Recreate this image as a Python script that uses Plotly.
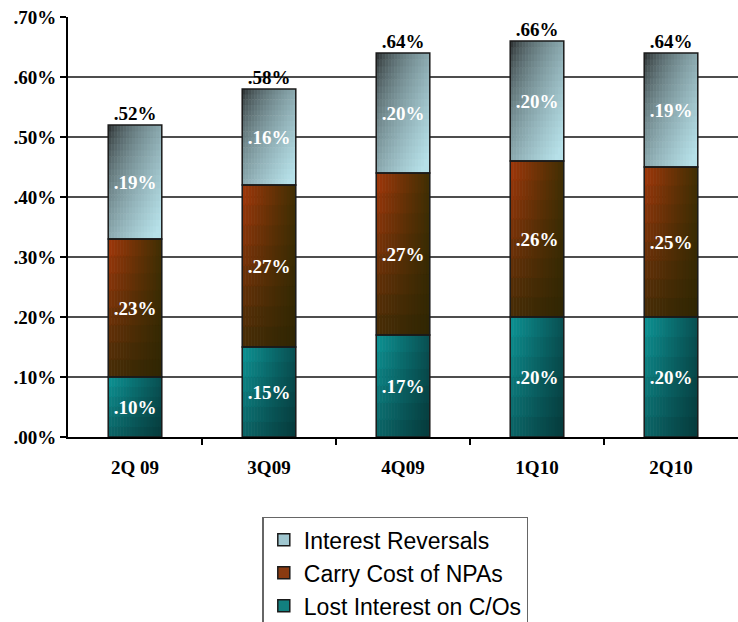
import plotly.graph_objects as go

# ---- data -----------------------------------------------------------------
quarters = ["2Q 09", "3Q09", "4Q09", "1Q10", "2Q10"]
lost_interest = [0.10, 0.15, 0.17, 0.20, 0.20]        # Lost Interest on C/Os
carry_cost = [0.23, 0.27, 0.27, 0.26, 0.25]           # Carry Cost of NPAs
interest_reversals = [0.19, 0.16, 0.20, 0.20, 0.19]   # Interest Reversals
totals = [0.52, 0.58, 0.64, 0.66, 0.64]
y_tickvals = [0.0, 0.1, 0.2, 0.3, 0.4, 0.5, 0.6, 0.7]
y_ticktext = [".00%", ".10%", ".20%", ".30%", ".40%", ".50%", ".60%", ".70%"]


def pct(v):
    return ("%.2f%%" % v).lstrip("0")


def hex_rgb(h):
    h = h.lstrip("#")
    return tuple(int(h[i:i + 2], 16) for i in (0, 2, 4))


def mix(a, b, t):
    a, b = hex_rgb(a), hex_rgb(b)
    return tuple(a[i] + (b[i] - a[i]) * t for i in range(3))


def bilinear(tl, tr, bl, br):
    def f(u, v):  # u: 0 left -> 1 right, v: 0 bottom -> 1 top
        top = mix(tl, tr, u)
        bot = mix(bl, br, u)
        return tuple(bot[i] + (top[i] - bot[i]) * v for i in range(3))
    return f


def diagonal(dark, light):
    def f(u, v):
        s = min(1.0, ((u + (1 - v)) / 2) ** 0.55 * 1.05)
        return mix(dark, light, s)
    return f


# name, values, shading function, legend swatch colour, grid resolution
series = [
    ("Lost Interest on C/Os", lost_interest,
     bilinear("#0c9596", "#0a5153", "#0b6264", "#063a3b"), "#12807f", (18, 6)),
    ("Carry Cost of NPAs", carry_cost,
     bilinear("#a3370a", "#403004", "#442c06", "#2f2603"), "#8a3a10", (18, 8)),
    ("Interest Reversals", interest_reversals,
     diagonal("#1c1c1c", "#b6e0e8"), "#9fc6cf", (18, 18)),
]

x = list(range(len(quarters)))
BAR_W = 0.4
SERIF = "Liberation Serif, Times New Roman, serif"

fig = go.Figure()

bases = [0.0] * len(quarters)
outline_traces = []
for name, vals, shade, legend_color, (nx, ny) in series:
    # gradient fill: a grid of small overlapping rectangles per segment
    cw = BAR_W / nx
    for i in range(nx):
        for j in range(ny):
            u = (i + 0.5) / nx
            v = (j + 0.5) / ny
            r, g, b = shade(u, v)
            fig.add_trace(go.Bar(
                x=x,
                y=[val / ny * (1.08 if j < ny - 1 else 1.0) for val in vals],
                base=[bases[k] + vals[k] * j / ny for k in range(len(x))],
                width=cw * 1.2 if i < nx - 1 else cw,
                offset=-BAR_W / 2 + i * cw,
                marker=dict(color="rgb(%d,%d,%d)" % (r, g, b), line=dict(width=0)),
                showlegend=False, hoverinfo="skip",
            ))
    outline_traces.append(go.Bar(
        x=x, y=vals, base=list(bases), width=BAR_W, offset=-BAR_W / 2,
        marker=dict(color="rgba(0,0,0,0)", line=dict(color="#1a1a1a", width=1.5)),
        text=[pct(v) for v in vals], textposition="inside",
        insidetextanchor="middle", textangle=0,
        insidetextfont=dict(color="white", size=19, family=SERIF, weight="bold"),
        showlegend=False, hoverinfo="skip",
    ))
    fig.add_trace(go.Bar(
        x=[None], y=[None], name=name,
        marker=dict(color=legend_color, line=dict(color="#1a1a1a", width=1.5)),
    ))
    bases = [bases[k] + vals[k] for k in range(len(x))]

for tr in outline_traces:
    fig.add_trace(tr)

fig.add_trace(go.Scatter(
    x=x, y=totals, mode="text", text=[pct(t) for t in totals],
    textposition="top center",
    textfont=dict(color="black", size=19, family=SERIF, weight="bold"),
    showlegend=False, hoverinfo="skip", cliponaxis=False,
))

tick_font = dict(family=SERIF, size=19, color="black", weight="bold")

fig.update_layout(
    width=738, height=622,
    margin=dict(l=68, r=0, t=17, b=185),
    barmode="overlay",
    plot_bgcolor="white", paper_bgcolor="white",
    font=dict(family=SERIF, weight="bold"),
    xaxis=dict(
        range=[-0.5, 4.5], tickvals=x, ticktext=quarters, ticks="",
        tickfont=tick_font, showgrid=False, zeroline=False,
        showline=True, linecolor="black", linewidth=2, ticklabelstandoff=12,
        minor=dict(tickvals=[0.5, 1.5, 2.5, 3.5], ticks="outside",
                   ticklen=6, tickcolor="black", tickwidth=1.5),
    ),
    yaxis=dict(
        range=[0, 0.7], tickvals=y_tickvals, ticktext=y_ticktext,
        tickfont=tick_font, ticks="outside", ticklen=6, tickcolor="black",
        tickwidth=1.5, showgrid=True, gridcolor="#4d4d4d", gridwidth=2,
        zeroline=False, showline=True, linecolor="black", linewidth=2,
    ),
    legend=dict(
        xref="paper", x=0.29, xanchor="left",
        yref="container", y=0.169, yanchor="top",
        traceorder="reversed",
        font=dict(family="Liberation Sans, Arial, sans-serif", size=23,
                  color="black", weight="normal"),
        bordercolor="#666666", borderwidth=1.5, bgcolor="white",
        itemclick=False,
    ),
)

fig.write_html("out.html")
